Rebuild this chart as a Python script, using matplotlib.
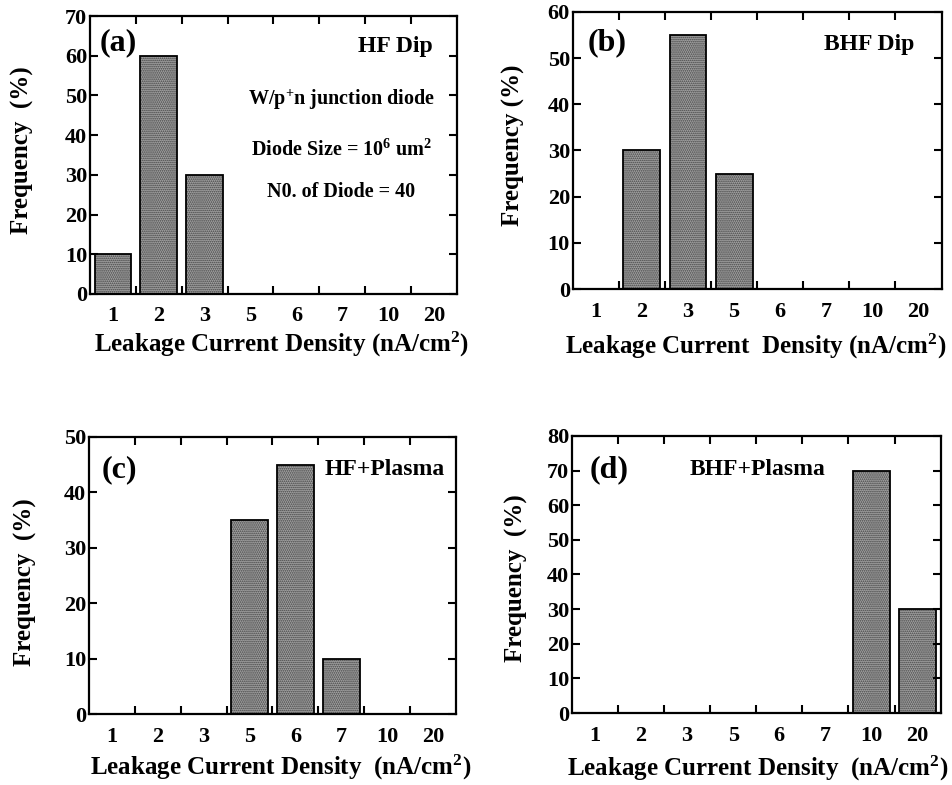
"""Leakage current density histograms for four surface treatments (2x2 panels)."""
import numpy as np
import matplotlib; matplotlib.use("Agg")
import matplotlib.pyplot as plt

plt.rcParams.update({
    "font.family": "Liberation Serif", "font.weight": "bold", "axes.labelweight": "bold",
    "mathtext.fontset": "custom", "mathtext.rm": "Liberation Serif:bold",
    "mathtext.bf": "Liberation Serif:bold", "mathtext.it": "Liberation Serif:bold",
    "mathtext.default": "bf", "hatch.linewidth": 0.8,
})

cats = ["1", "2", "3", "5", "6", "7", "10", "20"]
hf_dip = [10, 60, 30, 0, 0, 0, 0, 0]
bhf_dip = [0, 30, 55, 25, 0, 0, 0, 0]
hf_plasma = [0, 0, 0, 35, 45, 10, 0, 0]
bhf_plasma = [0, 0, 0, 0, 0, 0, 70, 30]

panels = [
    # values, ymax, rect, ylabel, ylabel pos, xlabel, xlabel pos
    (hf_dip, 70, [0.0944, 0.6255, 0.385, 0.354], "Frequency  (%)", (-0.183, 0.518),
     "Leakage Current Density (nA/cm$^{2}$)", (0.523, -0.183)),
    (bhf_dip, 60, [0.601, 0.6318, 0.387, 0.353], "Frequency (%)", (-0.16, 0.52),
     "Leakage Current  Density (nA/cm$^{2}$)", (0.496, -0.206)),
    (hf_plasma, 50, [0.0934, 0.0904, 0.385, 0.353], "Frequency  (%)", (-0.172, 0.477),
     "Leakage Current Density  (nA/cm$^{2}$)", (0.523, -0.191)),
    (bhf_plasma, 80, [0.600, 0.0917, 0.387, 0.353], "Frequency  (%)", (-0.149, 0.487),
     "Leakage Current Density  (nA/cm$^{2}$)", (0.505, -0.199)),
]

fig = plt.figure(figsize=(9.53, 7.85), dpi=100)
axes = []
x = np.arange(len(cats))
for vals, ym, rect, yl, ylpos, xlab, xlpos in panels:
    ax = fig.add_axes(rect)
    # stippled grey fill, then a black outline on top
    ax.bar(x, vals, width=0.8, color="#a2a2a2", edgecolor="#404040", hatch="........", linewidth=0)
    ax.bar(x, vals, width=0.8, fill=False, edgecolor="black", linewidth=1.3)
    ax.set_xlim(-0.5, len(cats) - 0.5)
    ax.set_ylim(0, ym)
    ax.set_yticks(np.arange(0, ym + 1, 10))
    ax.set_xticks(np.arange(0.5, len(cats) - 1, 1))
    ax.set_xticklabels([])
    ax.set_xticks(x, labels=cats, minor=True)
    ax.tick_params(which="major", direction="in", top=True, right=True, length=6, width=1.5,
                   labelsize=16)
    ax.tick_params(axis="y", pad=2)
    ax.tick_params(which="minor", length=0, labelsize=16, pad=9)
    for s in ax.spines.values():
        s.set_linewidth(1.6)
    ax.set_ylabel(yl, fontsize=18, va="center")
    ax.yaxis.set_label_coords(*ylpos)
    ax.set_xlabel(xlab, fontsize=18, va="center")
    ax.xaxis.set_label_coords(*xlpos)
    axes.append(ax)

a, b, c, d = axes
a.text(0.027, 0.903, "(a)", transform=a.transAxes, fontsize=23, va="center")
a.text(0.935, 0.892, "HF Dip", transform=a.transAxes, fontsize=17, ha="right", va="center")
a.text(0.685, 0.698, "W/p$^{+}$n junction diode", transform=a.transAxes, fontsize=14.5,
       ha="center", va="center")
a.text(0.685, 0.518, "Diode Size = 10$^{6}$ um$^{2}$", transform=a.transAxes, fontsize=14.5,
       ha="center", va="center")
a.text(0.685, 0.367, "N0. of Diode = 40", transform=a.transAxes, fontsize=14.5,
       ha="center", va="center")
b.text(0.041, 0.888, "(b)", transform=b.transAxes, fontsize=23, va="center")
b.text(0.927, 0.884, "BHF Dip", transform=b.transAxes, fontsize=17, ha="right", va="center")
c.text(0.035, 0.881, "(c)", transform=c.transAxes, fontsize=23, va="center")
c.text(0.970, 0.884, "HF+Plasma", transform=c.transAxes, fontsize=17, ha="right", va="center")
d.text(0.049, 0.877, "(d)", transform=d.transAxes, fontsize=23, va="center")
d.text(0.32, 0.877, "BHF+Plasma", transform=d.transAxes, fontsize=17, va="center")

fig.savefig("out.png", dpi=100)
plt.close(fig)
